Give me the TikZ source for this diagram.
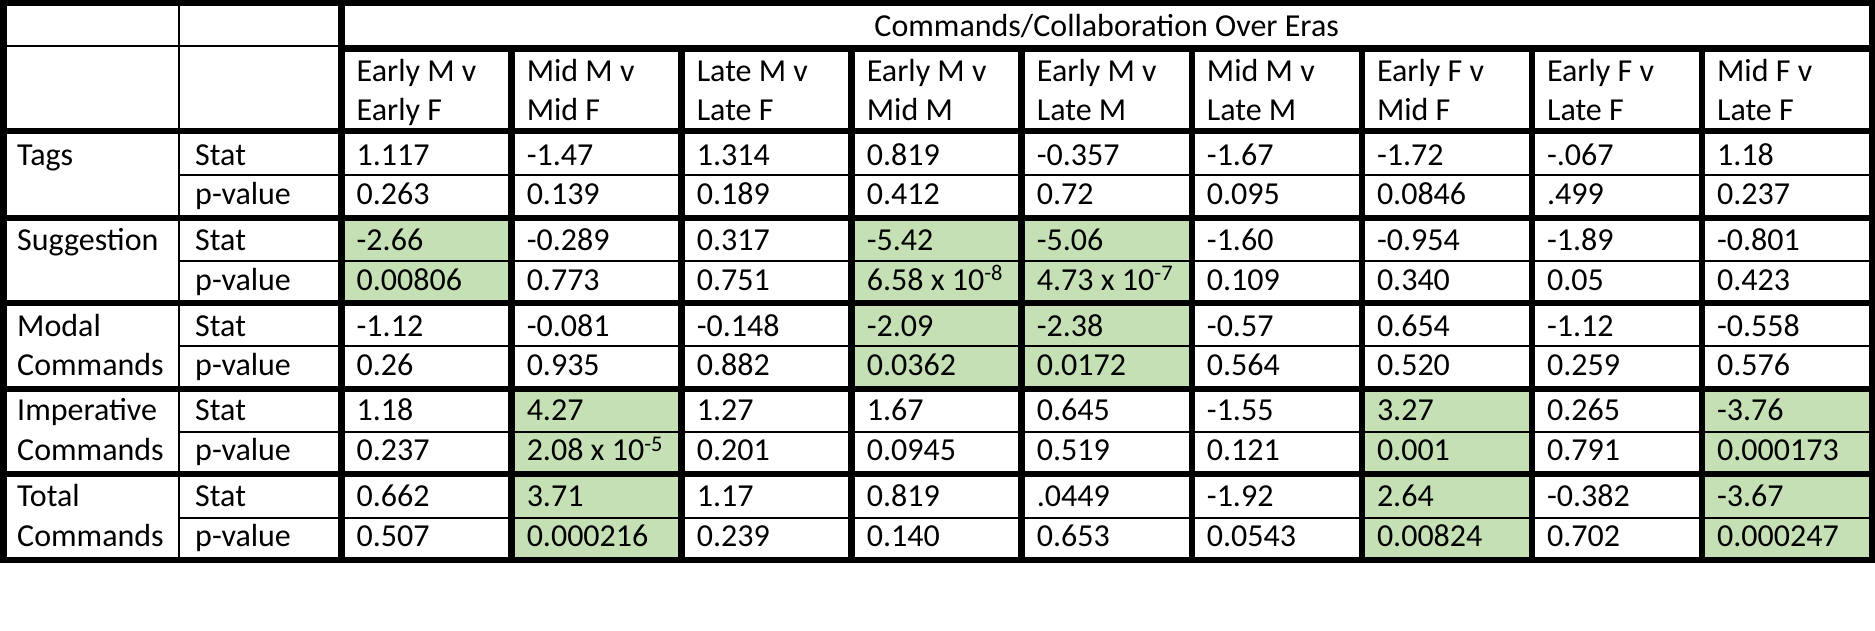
\documentclass[tikz,border=0pt]{standalone}
\usepackage{fontspec}
\setmainfont{Carlito}
\definecolor{hl}{HTML}{C5E0B4}
\begin{document}
\begin{tikzpicture}[x=1pt,y=-1pt,
  thk/.style={line width=6.5pt},
  thn/.style={line width=1.8pt},
  txt/.style={anchor=base west,inner sep=0pt,font=\fontsize{32}{38}\selectfont}]
\useasboundingbox[fill=white] (0,0) rectangle (1875,630);
\def\cw{170.05}
\def\xa{341.5}
% green fills
\foreach \g/\c in {218/0,218/3,218/4,303/3,303/4,389/1,389/6,389/8,474/1,474/6,474/8}{
  \pgfmathsetmacro{\gb}{\g==218?303:(\g==303?389:(\g==389?474:560))}
  \fill[hl] ({\xa+\cw*\c},\g) rectangle ({\xa+\cw*(\c+1)},\gb);
}
% thin lines
\draw[thn] (0,46) -- (\xa,46);
\draw[thn] (179,0) -- (179,560);
\foreach \y in {175,261,346,432,518}
  \draw[thn] (179,\y) -- (1872,\y);
% thick lines
\draw[thk] (\xa,48.5) -- (1872,48.5);
\foreach \y in {131,218,303,389,474}
  \draw[thk] (0,\y) -- (1875,\y);
\draw[thk] (\xa,0) -- (\xa,563);
\foreach \i in {1,...,8}
  \draw[thk] ({\xa+\cw*\i},48.5) -- ({\xa+\cw*\i},563);
\draw[thk] (3.5,3) rectangle (1872,560);
% header
\node[txt,anchor=base] (title) at (1106.7,36) {Commands/Collaboration Over Eras};
\foreach \a/\b [count=\i from 0] in {Early M v/Early F,Mid M v/Mid F,Late M v/Late F,Early M v/Mid M,Early M v/Late M,Mid M v/Late M,Early F v/Mid F,Early F v/Late F,Mid F v/Late F}{
  \node[txt] (ha\i) at ({\xa+\cw*\i+15},81.7) {\a};
  \node[txt] (hb\i) at ({\xa+\cw*\i+15},120) {\b};
}
% row labels
\node[txt] (tags) at (17,165.7) {Tags};
\node[txt] (sugg) at (17,250.7) {Suggestion};
\node[txt] (moda) at (17,336) {Modal};
\node[txt] (modb) at (17,375.7) {Commands};
\node[txt] (impa) at (17,420.7) {Imperative};
\node[txt] (impb) at (17,460.7) {Commands};
\node[txt] (tota) at (17,506.7) {Total};
\node[txt] (totb) at (17,546.7) {Commands};
\foreach \y [count=\k] in {165.7,250.7,336,420.7,506.7}
  \node[txt] (st\k) at (195,\y) {Stat};
\foreach \y [count=\k] in {204,290,375.7,460.7,546.7}
  \node[txt] (pv\k) at (195,\y) {p-value};
% data
\foreach \v [count=\i from 0] in {1.117,-1.47,1.314,0.819,-0.357,-1.67,-1.72,-.067,1.18}
  \node[txt] (a\i) at ({\xa+\cw*\i+15},165.7) {\v};
\foreach \v [count=\i from 0] in {0.263,0.139,0.189,0.412,0.72,0.095,0.0846,.499,0.237}
  \node[txt] (b\i) at ({\xa+\cw*\i+15},204) {\v};
\foreach \v [count=\i from 0] in {-2.66,-0.289,0.317,-5.42,-5.06,-1.60,-0.954,-1.89,-0.801}
  \node[txt] (c\i) at ({\xa+\cw*\i+15},250.7) {\v};
\foreach \v [count=\i from 0] in {0.00806,0.773,0.751,{6.58 x 10\textsuperscript{-8}},{4.73 x 10\textsuperscript{-7}},0.109,0.340,0.05,0.423}
  \node[txt] (d\i) at ({\xa+\cw*\i+15},290) {\v};
\foreach \v [count=\i from 0] in {-1.12,-0.081,-0.148,-2.09,-2.38,-0.57,0.654,-1.12,-0.558}
  \node[txt] (e\i) at ({\xa+\cw*\i+15},336) {\v};
\foreach \v [count=\i from 0] in {0.26,0.935,0.882,0.0362,0.0172,0.564,0.520,0.259,0.576}
  \node[txt] (f\i) at ({\xa+\cw*\i+15},375.7) {\v};
\foreach \v [count=\i from 0] in {1.18,4.27,1.27,1.67,0.645,-1.55,3.27,0.265,-3.76}
  \node[txt] (g\i) at ({\xa+\cw*\i+15},420.7) {\v};
\foreach \v [count=\i from 0] in {0.237,{2.08 x 10\textsuperscript{-5}},0.201,0.0945,0.519,0.121,0.001,0.791,0.000173}
  \node[txt] (h\i) at ({\xa+\cw*\i+15},460.7) {\v};
\foreach \v [count=\i from 0] in {0.662,3.71,1.17,0.819,.0449,-1.92,2.64,-0.382,-3.67}
  \node[txt] (m\i) at ({\xa+\cw*\i+15},506.7) {\v};
\foreach \v [count=\i from 0] in {0.507,0.000216,0.239,0.140,0.653,0.0543,0.00824,0.702,0.000247}
  \node[txt] (n\i) at ({\xa+\cw*\i+15},546.7) {\v};
\end{tikzpicture}
\end{document}
